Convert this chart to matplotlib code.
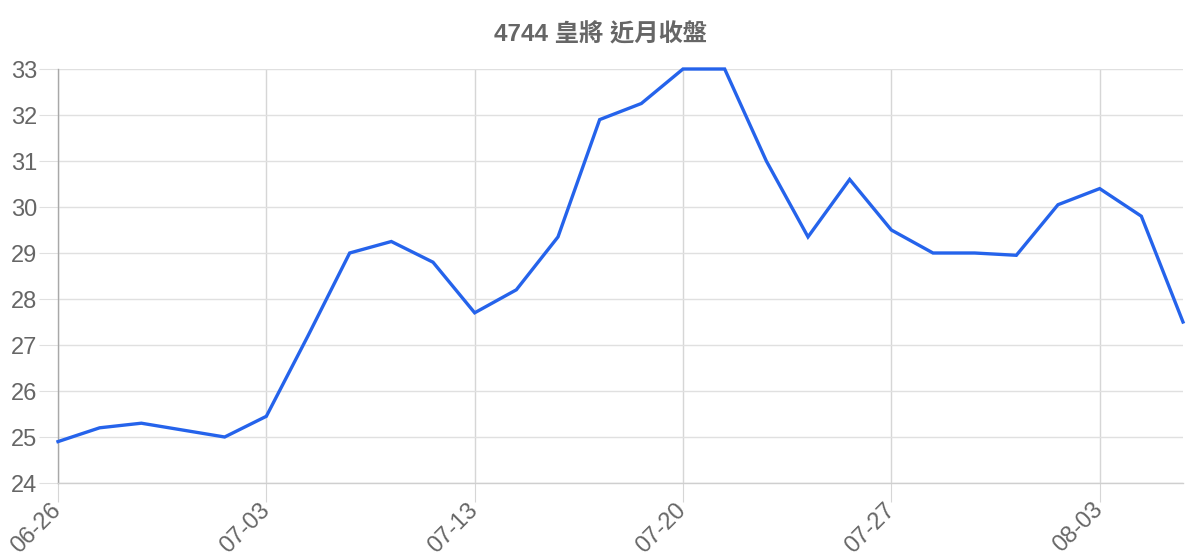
import matplotlib
matplotlib.use("Agg")
import matplotlib.pyplot as plt

title = "4744 皇將 近月收盤"
dates = ["06-26", "06-29", "06-30", "07-01", "07-02", "07-03", "07-06", "07-07",
         "07-08", "07-09", "07-13", "07-14", "07-15", "07-16", "07-17", "07-20",
         "07-21", "07-22", "07-23", "07-24", "07-27", "07-28", "07-29", "07-30",
         "07-31", "08-03", "08-04", "08-05"]
closes = [24.9, 25.2, 25.3, 25.15, 25.0, 25.45, 27.2, 29.0, 29.25, 28.8,
          27.7, 28.2, 29.35, 31.9, 32.25, 33.0, 33.0, 31.0, 29.35, 30.6,
          29.5, 29.0, 29.0, 28.95, 30.05, 30.4, 29.8, 27.5]
y_ticks = list(range(24, 34))
label_step = 5

fam = ["Liberation Sans", "Noto Sans CJK TC", "DejaVu Sans"]
plt.rcParams["font.family"] = fam

fig = plt.figure(figsize=(12, 5.6), dpi=100)
ax = fig.add_axes([58/1200, 1-483/560, (1183-58)/1200, (483-69)/560])

x = list(range(len(closes)))
ax.plot(x, closes, color="#2563eb", lw=2.4, clip_on=False, zorder=3,
        solid_joinstyle="miter")

ax.set_xlim(0, len(closes) - 1)
ax.set_ylim(y_ticks[0], y_ticks[-1])
ax.set_yticks(y_ticks)
ax.set_yticklabels([str(v) for v in y_ticks])
xt = x[::label_step]
ax.set_xticks(xt)
ax.set_xticklabels([dates[i] for i in xt], rotation=45, ha="right",
                   va="center", rotation_mode="anchor")

grid_c = "#e0e0e0"
vgrid_c = "#d6d6d6"
ax.grid(True, axis="y", color=grid_c, lw=1.0)
ax.grid(True, axis="x", color=vgrid_c, lw=1.0)
ax.set_axisbelow(True)
for s in ["top", "right"]:
    ax.spines[s].set_visible(False)
ax.spines["left"].set_color("#a8a8a8")
ax.spines["left"].set_linewidth(1.0)
ax.spines["bottom"].set_color("#cfcfcf")
ax.spines["bottom"].set_linewidth(1.0)

ax.tick_params(axis="y", length=14, width=0.8, color=grid_c, pad=1,
               labelsize=17, labelcolor="#666666")
ax.tick_params(axis="x", length=14, width=0.8, color=vgrid_c, pad=3,
               labelsize=17, labelcolor="#666666")

fig.text(0.5, 1-35/560, title, ha="center", va="center",
         fontsize=17.5, fontweight="bold", color="#666666", family=fam)

fig.savefig("out.png", dpi=100, facecolor="white")
